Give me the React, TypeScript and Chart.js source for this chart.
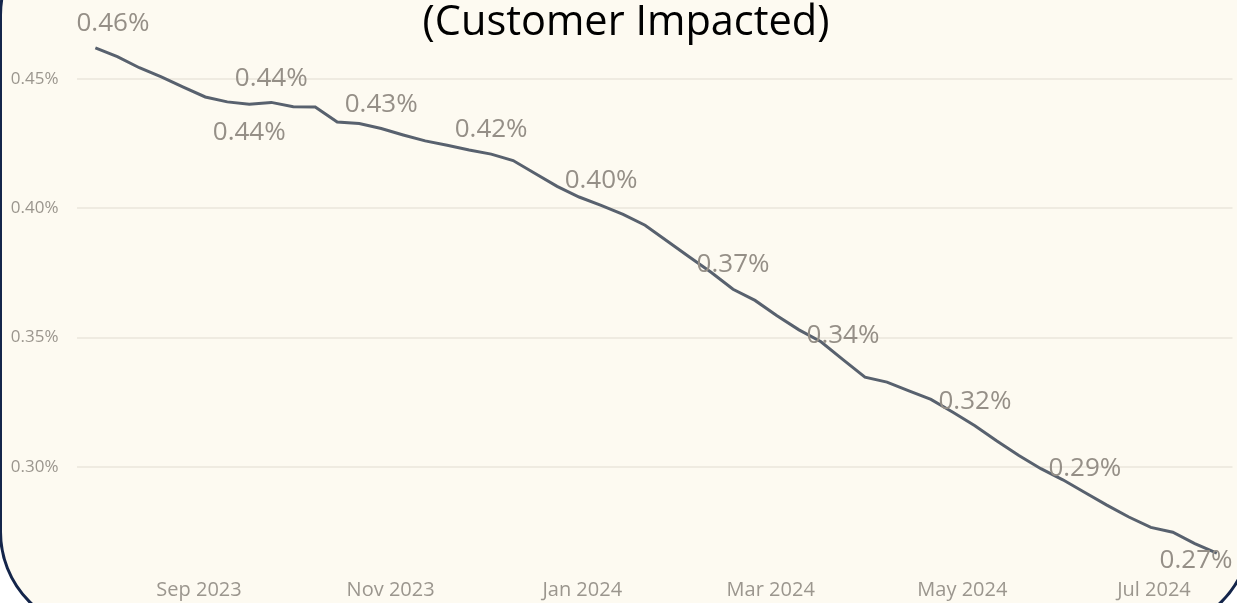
import React, { useEffect, useRef } from "react";
import { Chart, registerables } from "chart.js";

Chart.register(...registerables);

// Weekly dates (week starting)
const weekDates: string[] = [
  "2023-07-30", "2023-08-06", "2023-08-13", "2023-08-20", "2023-08-27",
  "2023-09-03", "2023-09-10", "2023-09-17", "2023-09-24", "2023-10-01",
  "2023-10-08", "2023-10-15", "2023-10-22", "2023-10-29", "2023-11-05",
  "2023-11-12", "2023-11-19", "2023-11-26", "2023-12-03", "2023-12-10",
  "2023-12-17", "2023-12-24", "2023-12-31", "2024-01-07", "2024-01-14",
  "2024-01-21", "2024-01-28", "2024-02-04", "2024-02-11", "2024-02-18",
  "2024-02-25", "2024-03-03", "2024-03-10", "2024-03-17", "2024-03-24",
  "2024-03-31", "2024-04-07", "2024-04-14", "2024-04-21", "2024-04-28",
  "2024-05-05", "2024-05-12", "2024-05-19", "2024-05-26", "2024-06-02",
  "2024-06-09", "2024-06-16", "2024-06-23", "2024-06-30", "2024-07-07",
  "2024-07-14", "2024-07-21",
];

// Customer impacted rate, in percent
const rateValues: number[] = [
  0.4621, 0.4587, 0.4544, 0.4509, 0.4469, 0.4431, 0.4412, 0.4403, 0.4410, 0.4393,
  0.4392, 0.4334, 0.4328, 0.4309, 0.4284, 0.4261, 0.4244, 0.4226, 0.4210, 0.4185,
  0.4135, 0.4085, 0.4044, 0.4012, 0.3977, 0.3935, 0.3874, 0.3813, 0.3753, 0.3687,
  0.3644, 0.3585, 0.3530, 0.3484, 0.3415, 0.3347, 0.3328, 0.3294, 0.3261, 0.3211,
  0.3159, 0.3100, 0.3044, 0.2993, 0.2950, 0.2901, 0.2852, 0.2806, 0.2766, 0.2747,
  0.2703, 0.2666,
];

// Data labels shown (point index and side)
const labelIndices: number[] = [0, 7, 8, 13, 18, 23, 29, 34, 40, 45, 51];
const labelSides: string[] = ["above", "below", "above", "above", "above", "above", "above", "above", "above", "above", "below"];

// X axis ticks
const xTickDates: string[] = ["2023-09-01", "2023-11-01", "2024-01-01", "2024-03-01", "2024-05-01", "2024-07-01"];
const xTickLabels: string[] = ["Sep 2023", "Nov 2023", "Jan 2024", "Mar 2024", "May 2024", "Jul 2024"];
const xRangeDates: string[] = ["2023-07-24", "2024-07-26"];

// Y axis ticks
const yTickValues: number[] = [0.30, 0.35, 0.40, 0.45];
const yTickLabels: string[] = ["0.30%", "0.35%", "0.40%", "0.45%"];
const yRange: number[] = [0.262, 0.4697];

const TITLE = "(Customer Impacted)";

const toDay = (s: string) => {
  const [y, m, d] = s.split("-").map(Number);
  return Date.UTC(y, m - 1, d) / 86400000;
};

export default function App() {
  const ref = useRef<HTMLCanvasElement | null>(null);

  useEffect(() => {
    if (!ref.current) return;
    const points = weekDates.map((d, i) => ({ x: toDay(d), y: rateValues[i] }));
    const xTickDays = xTickDates.map(toDay);

    const labelPlugin = {
      id: "pointLabels",
      afterDatasetsDraw(chart: any) {
        const ctx = chart.ctx;
        const area = chart.chartArea;
        const meta = chart.getDatasetMeta(0);
        ctx.save();
        ctx.font = '26px "Open Sans"';
        ctx.fillStyle = "#958f87";
        ctx.textAlign = "center";
        ctx.textBaseline = "alphabetic";
        labelIndices.forEach((idx, k) => {
          const pt = meta.data[idx];
          const text = rateValues[idx].toFixed(2) + "%";
          const w = ctx.measureText(text).width;
          const cx = Math.min(Math.max(pt.x, area.left + w / 2), area.right - w / 2);
          let base = labelSides[k] === "above" ? pt.y - 16.8 : pt.y + 36;
          base = Math.min(base, area.bottom + 3);
          ctx.fillText(text, cx, base);
        });
        ctx.restore();
      },
    };

    const titlePlugin = {
      id: "topTitle",
      afterDraw(chart: any) {
        const ctx = chart.ctx;
        ctx.save();
        ctx.font = '41.5px "Open Sans"';
        ctx.fillStyle = "#000000";
        ctx.textAlign = "center";
        ctx.textBaseline = "alphabetic";
        ctx.fillText(TITLE, 626, 35);
        ctx.restore();
      },
    };

    const chart = new Chart(ref.current, {
      type: "line",
      data: {
        datasets: [
          {
            data: points,
            borderColor: "#58616e",
            borderWidth: 3,
            pointRadius: 0,
            tension: 0,
            fill: false,
          },
        ],
      },
      options: {
        animation: false,
        responsive: false,
        maintainAspectRatio: false,
        layout: { padding: { left: 0, right: 4.5, top: 0.7, bottom: 0 } },
        plugins: {
          legend: { display: false },
          tooltip: { enabled: false },
          title: { display: false },
        },
        scales: {
          x: {
            type: "linear",
            min: toDay(xRangeDates[0]),
            max: toDay(xRangeDates[1]),
            grid: { display: false },
            border: { display: false },
            afterBuildTicks: (axis: any) => {
              axis.ticks = xTickDays.map((v) => ({ value: v }));
            },
            afterFit: (axis: any) => {
              axis.height = 37.9;
            },
            ticks: {
              autoSkip: false,
              maxRotation: 0,
              padding: 5,
              color: "#9b968e",
              font: { family: '"Open Sans"', size: 20 },
              callback: (v: any) => {
                const i = xTickDays.indexOf(Number(v));
                return i >= 0 ? xTickLabels[i] : "";
              },
            },
          },
          y: {
            type: "linear",
            min: yRange[0],
            max: yRange[1],
            border: { display: false },
            grid: { color: "#efebe1", lineWidth: 2, drawTicks: false },
            afterBuildTicks: (axis: any) => {
              axis.ticks = yTickValues.map((v) => ({ value: v }));
            },
            afterFit: (axis: any) => {
              axis.width = 76.5;
            },
            ticks: {
              padding: 18,
              color: "#9b968e",
              font: { family: '"Open Sans"', size: 17 },
              callback: (v: any) => {
                const i = yTickValues.findIndex((t) => Math.abs(t - Number(v)) < 1e-9);
                return i >= 0 ? yTickLabels[i] : "";
              },
            },
          },
        },
      },
      plugins: [labelPlugin, titlePlugin],
    });
    return () => chart.destroy();
  }, []);

  return (
    <div
      style={{
        position: "fixed",
        left: 0,
        top: 0,
        width: 1237,
        height: 603,
        background: "#ffffff",
        overflow: "hidden",
      }}
    >
      <div
        style={{
          position: "absolute",
          left: -1,
          top: -85,
          width: 1253,
          height: 717,
          boxSizing: "border-box",
          border: "3px solid #14254a",
          borderRadius: 100,
          background: "#fdfaf1",
        }}
      />
      <canvas
        ref={ref}
        width={1237}
        height={603}
        style={{ position: "absolute", left: 0, top: 0, width: 1237, height: 603 }}
      />
    </div>
  );
}
